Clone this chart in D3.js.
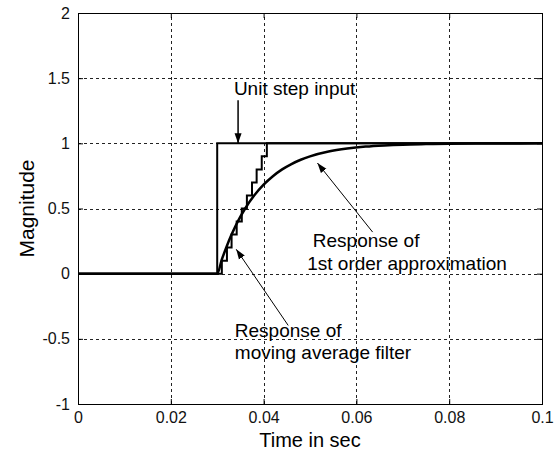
<!DOCTYPE html>
<html>
<head>
<meta charset="utf-8">
<script src="https://cdn.jsdelivr.net/npm/d3@7"></script>
<style>
  html, body { margin: 0; padding: 0; background: #fff; }
  svg { display: block; font-family: "Liberation Sans", Arial, sans-serif; }
</style>
</head>
<body>
<svg id="chart" width="557" height="455"></svg>
<script>
// Unit step, its moving-average response and the 1st order approximation.

const xTicks = [0, 0.02, 0.04, 0.06, 0.08, 0.1];
const yTicks = [-1, -0.5, 0, 0.5, 1, 1.5, 2];

// unit step input
const stepT = [0, 0.03, 0.03, 0.1];
const stepY = [0, 0, 1, 1];

// moving average filter output (staircase, value holds until next sample)
const maT = [0, 0.0310, 0.0321, 0.0331, 0.0342, 0.0353, 0.0364, 0.0375, 0.0385, 0.0396, 0.0407, 0.1];
const maY = [0, 0.1, 0.2, 0.3, 0.4, 0.5, 0.6, 0.7, 0.8, 0.9, 1.0, 1.0];

// 1st order approximation
const foT = [0, 0.030, 0.031, 0.032, 0.033, 0.034, 0.035, 0.036, 0.038, 0.040, 0.042, 0.044,
             0.046, 0.048, 0.050, 0.054, 0.058, 0.062, 0.066, 0.070, 0.075, 0.080, 0.090, 0.1];
const foY = [0, 0, 0.109, 0.205, 0.292, 0.369, 0.437, 0.498, 0.601, 0.683, 0.748, 0.800,
             0.841, 0.874, 0.900, 0.937, 0.960, 0.975, 0.984, 0.990, 0.994, 0.997, 0.999, 1.0];

// annotations: [text lines], line x, first baseline y, arrow from -> to (data units)
const labelLines = [
  ["Unit step input"],
  ["Response of", "1st order approximation"],
  ["Response of", "moving average filter"]
];
const labelX = [[0.0336], [0.0506, 0.0494], [0.0338, 0.0338]];
const labelY = [[1.368], [0.204, 0.025], [-0.487, -0.655]];
const arrowFrom = [[0.0345, 1.33], [0.0635, 0.319], [0.0453, -0.397]];
const arrowTo = [[0.0345, 1.0], [0.0516, 0.849], [0.0341, 0.187]];
const arrowWidth = [1.5, 1, 1];

const svg = d3.select("#chart");
const margin = { top: 13, right: 15, bottom: 51, left: 78 };
const W = 557, H = 455;

const x = d3.scaleLinear().domain([0, 0.1]).range([margin.left, W - margin.right]);
const y = d3.scaleLinear().domain([-1, 2]).range([H - margin.bottom, margin.top]);

// grid
const grid = svg.append("g")
  .attr("stroke", "#222").attr("stroke-width", 1).attr("stroke-dasharray", "3,3")
  .attr("shape-rendering", "crispEdges");
grid.selectAll(".gx").data(xTicks.slice(1, -1)).join("line")
  .attr("x1", d => Math.round(x(d)) + 0.5).attr("x2", d => Math.round(x(d)) + 0.5)
  .attr("y1", y(-1)).attr("y2", y(2));
grid.selectAll(".gy").data(yTicks.slice(1, -1)).join("line")
  .attr("x1", x(0)).attr("x2", x(0.1))
  .attr("y1", d => Math.round(y(d)) + 0.5).attr("y2", d => Math.round(y(d)) + 0.5);

// axes (MATLAB style: ticks inside, box around), plain hyphen for negatives
const fmt = d => String(d);
svg.append("g")
  .attr("transform", `translate(0,${y(-1)})`)
  .call(d3.axisBottom(x).tickValues(xTicks).tickSize(-5).tickPadding(8).tickFormat(fmt))
  .call(g => g.select(".domain").remove());
svg.append("g")
  .attr("transform", `translate(0,${y(2)})`)
  .call(d3.axisTop(x).tickValues(xTicks).tickSize(-5).tickFormat(""))
  .call(g => g.select(".domain").remove());
svg.append("g")
  .attr("transform", `translate(${x(0)},0)`)
  .call(d3.axisLeft(y).tickValues(yTicks).tickSize(-5).tickPadding(8).tickFormat(fmt))
  .call(g => g.select(".domain").remove());
svg.append("g")
  .attr("transform", `translate(${x(0.1)},0)`)
  .call(d3.axisRight(y).tickValues(yTicks).tickSize(-5).tickFormat(""))
  .call(g => g.select(".domain").remove());
svg.selectAll(".tick text")
  .attr("font-family", "'Liberation Sans', Arial, sans-serif")
  .attr("font-size", 16).attr("fill", "#111");
svg.selectAll(".tick line").attr("stroke", "#000");

svg.append("rect")
  .attr("x", Math.round(x(0)) + 0.5).attr("y", Math.round(y(2)) + 0.5)
  .attr("width", Math.round(x(0.1)) - Math.round(x(0)))
  .attr("height", Math.round(y(-1)) - Math.round(y(2)))
  .attr("fill", "none").attr("stroke", "#000").attr("stroke-width", 1);

// curves
const line = d3.line().x(d => x(d[0])).y(d => y(d[1]));
svg.append("path")
  .datum(d3.zip(stepT, stepY))
  .attr("d", line)
  .attr("fill", "none").attr("stroke", "#000").attr("stroke-width", 2);
svg.append("path")
  .datum(d3.zip(maT, maY))
  .attr("d", line.curve(d3.curveStepAfter))
  .attr("fill", "none").attr("stroke", "#000").attr("stroke-width", 2);
svg.append("path")
  .datum(d3.zip(foT, foY))
  .attr("d", line.curve(d3.curveMonotoneX))
  .attr("fill", "none").attr("stroke", "#000").attr("stroke-width", 2.5);

// annotation arrows
svg.append("defs").append("marker")
  .attr("id", "head").attr("viewBox", "0 0 10 10")
  .attr("refX", 10).attr("refY", 5)
  .attr("markerUnits", "userSpaceOnUse")
  .attr("markerWidth", 10).attr("markerHeight", 10)
  .attr("orient", "auto")
  .append("path").attr("d", "M0,1.5 L10,5 L0,8.5 Z").attr("fill", "#000");

arrowFrom.forEach((f, i) => {
  svg.append("line")
    .attr("x1", x(f[0])).attr("y1", y(f[1]))
    .attr("x2", x(arrowTo[i][0])).attr("y2", y(arrowTo[i][1]))
    .attr("stroke", "#000").attr("stroke-width", arrowWidth[i])
    .attr("marker-end", "url(#head)");
});

labelLines.forEach((lines, i) => {
  lines.forEach((t, j) => {
    svg.append("text")
      .attr("x", x(labelX[i][j])).attr("y", y(labelY[i][j]))
      .attr("font-size", 19).attr("fill", "#000")
      .text(t);
  });
});

// axis titles
svg.append("text")
  .attr("x", (x(0) + x(0.1)) / 2).attr("y", 447)
  .attr("text-anchor", "middle").attr("font-size", 20)
  .text("Time in sec");
svg.append("text")
  .attr("transform", `translate(34,${(y(-1) + y(2)) / 2}) rotate(-90)`)
  .attr("text-anchor", "middle").attr("font-size", 21)
  .text("Magnitude");
</script>
</body>
</html>
